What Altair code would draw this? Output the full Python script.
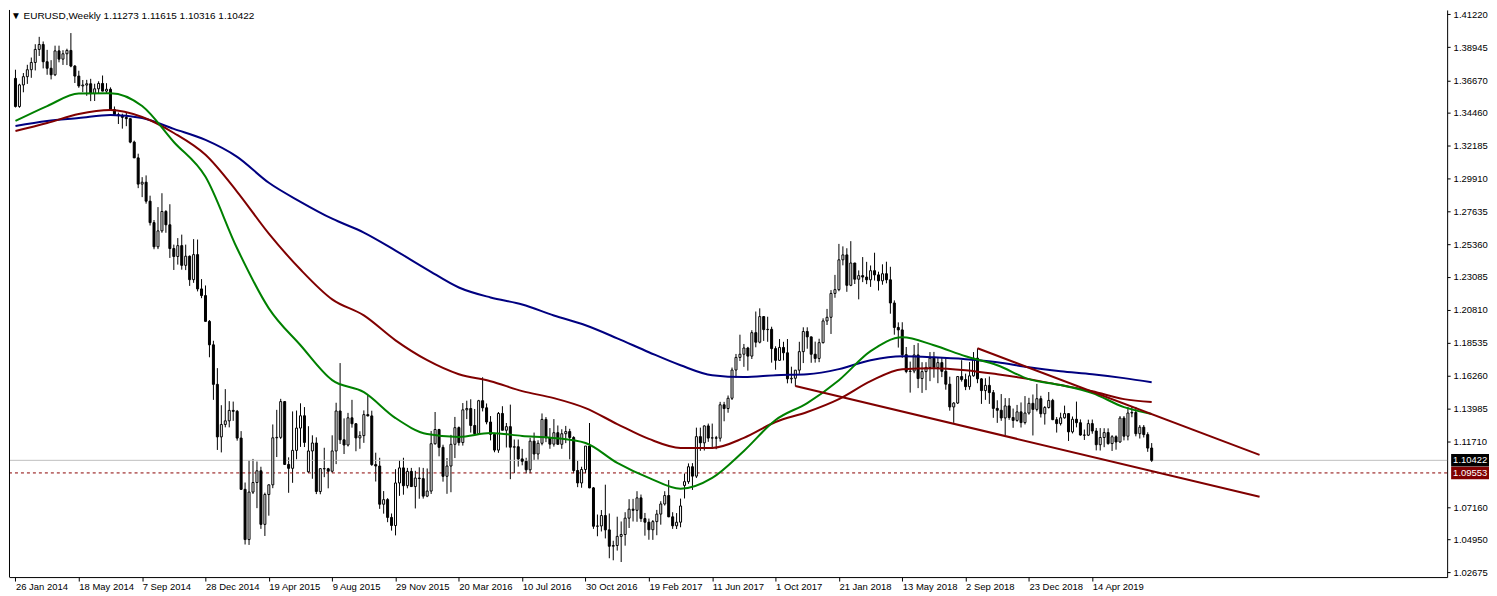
import altair as alt
import pandas as pd

FONT = "Liberation Sans"
FS = 9.5
W = 1443
H = 569

# ---- weekly candles, EURUSD, week 0 = 26 Jan 2014 ----
O = [1.3680,1.3486,1.3635,1.3692,1.3740,1.3790,1.3880,1.3914,1.3795,1.3750,
     1.3705,1.3870,1.3813,1.3850,1.3873,1.3765,1.3696,1.3628,1.3634,1.3643,
     1.3575,1.3608,1.3645,1.3592,1.3605,1.3465,1.3430,1.3423,1.3411,1.3402,
     1.3240,1.3131,1.2950,1.2963,1.2832,1.2684,1.2517,1.2627,1.2761,1.2669,
     1.2505,1.2450,1.2525,1.2389,1.2452,1.2290,1.2463,1.2226,1.2180,1.2002,
     1.1840,1.1567,1.1204,1.1290,1.1315,1.1387,1.1381,1.1196,1.0842,1.0495,
     1.0823,1.0889,1.0970,1.0600,1.0806,1.0873,1.1198,1.1201,1.1448,1.1014,
     1.0987,1.1111,1.1265,1.1350,1.0963,1.1107,1.1162,1.0827,1.0985,1.0984,
     1.0967,1.1107,1.1383,1.1184,1.1148,1.1336,1.1295,1.1197,1.1213,1.1358,
     1.1349,1.1013,1.1003,1.0739,1.0771,1.0648,1.0592,1.0886,1.0990,1.0867,
     1.0966,1.0861,1.0920,1.0916,1.0795,1.0830,1.1157,1.1255,1.1132,1.0932,
     1.1003,1.1153,1.1268,1.1165,1.1391,1.1400,1.1283,1.1226,1.1454,1.1405,
     1.1307,1.1222,1.1113,1.1366,1.1250,1.1275,1.1133,1.1136,1.1052,1.1036,
     1.0977,1.1175,1.1086,1.1160,1.1325,1.1198,1.1154,1.1233,1.1153,1.1226,
     1.1241,1.1200,1.0972,1.0886,1.0979,1.1141,1.0852,1.0587,1.0589,1.0661,
     1.0562,1.0449,1.0454,1.0517,1.0530,1.0643,1.0705,1.0697,1.0783,1.0640,
     1.0615,1.0563,1.0619,1.0671,1.0741,1.0799,1.0652,1.0590,1.0615,1.0869,
     1.0895,1.0998,1.0933,1.1206,1.1163,1.1280,1.1196,1.1198,1.1195,1.1426,
     1.1400,1.1471,1.1666,1.1753,1.1775,1.1818,1.1762,1.1924,1.1858,1.2035,
     1.1945,1.1947,1.1814,1.1733,1.1822,1.1785,1.1605,1.1609,1.1665,1.1793,
     1.1932,1.1895,1.1775,1.1746,1.1855,1.2005,1.2030,1.2195,1.2221,1.2427,
     1.2461,1.2251,1.2405,1.2293,1.2318,1.2308,1.2289,1.2352,1.2323,1.2282,
     1.2331,1.2289,1.2129,1.1960,1.1943,1.1772,1.1656,1.1659,1.1770,1.1607,
     1.1655,1.1684,1.1748,1.1684,1.1717,1.1657,1.1568,1.1411,1.1438,1.1621,
     1.1600,1.1551,1.1626,1.1748,1.1605,1.1524,1.1560,1.1510,1.1401,1.1388,
     1.1335,1.1418,1.1338,1.1318,1.1377,1.1303,1.1369,1.1436,1.1394,1.1468,
     1.1364,1.1407,1.1456,1.1323,1.1296,1.1336,1.1365,1.1239,1.1326,1.1302,
     1.1217,1.1216,1.1296,1.1245,1.1150,1.1200,1.1234,1.1158,1.1205,1.1169,
     1.1334,1.1209,1.1369,1.1373,1.1226,1.1271,1.1220,1.11273]
HI = [1.3740,1.3643,1.3717,1.3774,1.3824,1.3916,1.3967,1.3935,1.3877,1.3806,
      1.3906,1.3906,1.3875,1.3885,1.3993,1.3772,1.3733,1.3669,1.3670,1.3677,
      1.3643,1.3660,1.3700,1.3647,1.3618,1.3486,1.3444,1.3436,1.3445,1.3403,
      1.3250,1.3160,1.2998,1.3010,1.2870,1.2702,1.2791,1.2887,1.2770,1.2811,
      1.2532,1.2577,1.2601,1.2532,1.2457,1.2570,1.2567,1.2294,1.2250,1.2011,
      1.1868,1.1679,1.1423,1.1534,1.1451,1.1448,1.1390,1.1244,1.0889,1.1043,
      1.1052,1.1034,1.0998,1.0819,1.0875,1.1290,1.1391,1.1467,1.1451,1.1063,
      1.1380,1.1386,1.1436,1.1410,1.1278,1.1215,1.1201,1.0986,1.1129,1.0990,
      1.1215,1.1440,1.1714,1.1332,1.1370,1.1460,1.1299,1.1243,1.1387,1.1494,
      1.1385,1.1095,1.1060,1.0830,1.0781,1.0675,1.0981,1.1043,1.1060,1.0990,
      1.0990,1.0970,1.0994,1.0990,1.0986,1.1245,1.1376,1.1260,1.1150,1.1058,
      1.1218,1.1342,1.1276,1.1438,1.1454,1.1464,1.1397,1.1460,1.1616,1.1435,
      1.1348,1.1232,1.1376,1.1416,1.1300,1.1427,1.1186,1.1186,1.1121,1.1060,
      1.1198,1.1234,1.1181,1.1366,1.1341,1.1265,1.1327,1.1283,1.1257,1.1280,
      1.1260,1.1209,1.1039,1.0998,1.1123,1.1300,1.0858,1.0668,1.0699,1.0874,
      1.0675,1.0487,1.0653,1.0620,1.0684,1.0774,1.0776,1.0829,1.0806,1.0679,
      1.0640,1.0630,1.0700,1.0760,1.0829,1.0906,1.0684,1.0678,1.0778,1.0951,
      1.1021,1.1023,1.1268,1.1268,1.1284,1.1296,1.1296,1.1211,1.1446,1.1446,
      1.1490,1.1683,1.1777,1.1910,1.1846,1.1826,1.1941,1.2070,1.2092,1.2038,
      1.2034,1.1965,1.1830,1.1880,1.1861,1.1880,1.1689,1.1665,1.1861,1.1961,
      1.1961,1.1896,1.1862,1.1882,1.2023,1.2088,1.2218,1.2323,1.2537,1.2520,
      1.2507,1.2556,1.2406,1.2354,1.2446,1.2413,1.2388,1.2476,1.2345,1.2396,
      1.2414,1.2379,1.2147,1.1995,1.1996,1.1825,1.1724,1.1839,1.1852,1.1720,
      1.1720,1.1790,1.1791,1.1750,1.1750,1.1747,1.1620,1.1444,1.1624,1.1734,
      1.1641,1.1721,1.1790,1.1815,1.1610,1.1609,1.1621,1.1528,1.1457,1.1500,
      1.1472,1.1472,1.1400,1.1425,1.1442,1.1486,1.1474,1.1497,1.1570,1.1488,
      1.1417,1.1514,1.1467,1.1341,1.1371,1.1420,1.1369,1.1345,1.1448,1.1325,
      1.1255,1.1323,1.1324,1.1266,1.1265,1.1264,1.1263,1.1216,1.1215,1.1348,
      1.1348,1.1411,1.1412,1.1411,1.1286,1.1286,1.1236,1.11615]
LO = [1.3479,1.3477,1.3584,1.3642,1.3684,1.3735,1.3835,1.3749,1.3705,1.3673,
      1.3696,1.3791,1.3773,1.3772,1.3757,1.3648,1.3615,1.3585,1.3560,1.3523,
      1.3524,1.3573,1.3591,1.3580,1.3460,1.3422,1.3365,1.3333,1.3350,1.3232,
      1.3131,1.2922,1.2860,1.2815,1.2664,1.2500,1.2501,1.2614,1.2614,1.2440,
      1.2357,1.2394,1.2359,1.2356,1.2247,1.2268,1.2209,1.2162,1.2000,1.1754,
      1.1460,1.1114,1.1097,1.1270,1.1270,1.1315,1.1178,1.0839,1.0461,1.0458,
      1.0810,1.0712,1.0569,1.0520,1.0660,1.0850,1.1065,1.1190,1.1010,1.0818,
      1.0887,1.1050,1.1135,1.1134,1.0955,1.0915,1.0809,1.0808,1.0926,1.0849,
      1.0957,1.1016,1.1155,1.1086,1.1138,1.1268,1.1105,1.1122,1.1163,1.1346,
      1.1004,1.0896,1.0707,1.0674,1.0615,1.0557,1.0524,1.0797,1.0805,1.0849,
      1.0860,1.0710,1.0777,1.0778,1.0788,1.0810,1.1150,1.1070,1.0895,1.0811,
      1.0822,1.1058,1.1144,1.1144,1.1327,1.1234,1.1216,1.1217,1.1380,1.1291,
      1.1180,1.1098,1.1094,1.1250,1.1131,1.0912,1.0954,1.0999,1.1008,1.0952,
      1.0953,1.1045,1.1047,1.1146,1.1168,1.1122,1.1137,1.1151,1.1122,1.1161,
      1.1049,1.0953,1.0857,1.0853,1.0954,1.0850,1.0569,1.0518,1.0551,1.0503,
      1.0366,1.0352,1.0419,1.0340,1.0453,1.0575,1.0620,1.0618,1.0617,1.0522,
      1.0494,1.0493,1.0525,1.0598,1.0730,1.0650,1.0569,1.0568,1.0580,1.0779,
      1.0880,1.0838,1.0920,1.1108,1.1110,1.1170,1.1131,1.1119,1.1172,1.1312,
      1.1371,1.1459,1.1612,1.1728,1.1688,1.1662,1.1742,1.1823,1.1850,1.1867,
      1.1861,1.1717,1.1668,1.1729,1.1732,1.1574,1.1574,1.1553,1.1640,1.1714,
      1.1813,1.1716,1.1717,1.1720,1.1849,1.1977,1.1915,1.2165,1.2210,1.2389,
      1.2206,1.2245,1.2260,1.2154,1.2273,1.2259,1.2240,1.2284,1.2215,1.2255,
      1.2265,1.2055,1.1910,1.1821,1.1750,1.1644,1.1510,1.1644,1.1541,1.1508,
      1.1527,1.1589,1.1613,1.1575,1.1617,1.1530,1.1385,1.1301,1.1431,1.1586,
      1.1527,1.1530,1.1620,1.1575,1.1432,1.1460,1.1432,1.1336,1.1301,1.1315,
      1.1216,1.1322,1.1267,1.1309,1.1269,1.1290,1.1358,1.1214,1.1380,1.1338,
      1.1289,1.1400,1.1320,1.1234,1.1283,1.1330,1.1176,1.1228,1.1270,1.1213,
      1.1183,1.1210,1.1226,1.1111,1.1110,1.1133,1.1150,1.1107,1.1116,1.1164,
      1.1180,1.1180,1.1340,1.1208,1.1193,1.1200,1.1101,1.10316]
CL = [1.3486,1.3635,1.3692,1.3740,1.3790,1.3880,1.3914,1.3795,1.3750,1.3705,
      1.3870,1.3813,1.3850,1.3873,1.3765,1.3696,1.3628,1.3634,1.3643,1.3575,
      1.3608,1.3645,1.3592,1.3605,1.3465,1.3430,1.3423,1.3411,1.3402,1.3240,
      1.3131,1.2950,1.2963,1.2832,1.2684,1.2517,1.2627,1.2761,1.2669,1.2505,
      1.2450,1.2525,1.2389,1.2452,1.2290,1.2463,1.2226,1.2180,1.2002,1.1840,
      1.1567,1.1204,1.1290,1.1315,1.1387,1.1381,1.1196,1.0842,1.0495,1.0823,
      1.0889,1.0970,1.0600,1.0806,1.0873,1.1198,1.1201,1.1448,1.1014,1.0987,
      1.1111,1.1265,1.1350,1.1166,1.1107,1.1162,1.0827,1.0985,1.0984,1.0967,
      1.1107,1.1383,1.1184,1.1148,1.1336,1.1295,1.1197,1.1213,1.1358,1.1349,
      1.1013,1.1003,1.0739,1.0771,1.0648,1.0592,1.0886,1.0990,1.0867,1.0966,
      1.0861,1.0920,1.0916,1.0795,1.0830,1.1157,1.1255,1.1132,1.0932,1.1003,
      1.1153,1.1268,1.1165,1.1391,1.1400,1.1283,1.1226,1.1454,1.1405,1.1307,
      1.1222,1.1113,1.1366,1.1250,1.1275,1.1133,1.1136,1.1052,1.1036,1.0977,
      1.1175,1.1086,1.1160,1.1325,1.1198,1.1154,1.1233,1.1153,1.1226,1.1241,
      1.1200,1.0972,1.0886,1.0979,1.1141,1.0852,1.0587,1.0589,1.0661,1.0562,
      1.0449,1.0454,1.0517,1.0530,1.0643,1.0705,1.0697,1.0783,1.0640,1.0615,
      1.0563,1.0619,1.0671,1.0741,1.0799,1.0652,1.0590,1.0615,1.0727,1.0895,
      1.0998,1.0933,1.1206,1.1163,1.1280,1.1196,1.1198,1.1195,1.1426,1.1400,
      1.1471,1.1666,1.1753,1.1775,1.1818,1.1762,1.1924,1.1858,1.2035,1.1945,
      1.1947,1.1814,1.1733,1.1822,1.1785,1.1605,1.1609,1.1665,1.1793,1.1932,
      1.1895,1.1775,1.1746,1.1855,1.2005,1.2030,1.2195,1.2221,1.2427,1.2461,
      1.2251,1.2405,1.2293,1.2318,1.2308,1.2289,1.2352,1.2323,1.2282,1.2331,
      1.2289,1.2129,1.1960,1.1943,1.1772,1.1656,1.1659,1.1770,1.1607,1.1655,
      1.1684,1.1748,1.1684,1.1717,1.1657,1.1568,1.1411,1.1438,1.1621,1.1600,
      1.1551,1.1626,1.1748,1.1605,1.1524,1.1560,1.1510,1.1401,1.1388,1.1335,
      1.1418,1.1338,1.1318,1.1377,1.1303,1.1369,1.1436,1.1394,1.1468,1.1364,
      1.1407,1.1456,1.1323,1.1296,1.1336,1.1365,1.1239,1.1326,1.1302,1.1217,
      1.1216,1.1296,1.1245,1.1150,1.1200,1.1234,1.1158,1.1205,1.1169,1.1334,
      1.1209,1.1369,1.1373,1.1226,1.1271,1.1220,1.1127,1.10422]

# ---- moving averages (every 8 weeks, last point = week 287) ----
MA_WEEKS = list(range(0, 281, 8)) + [287]
MA_GREEN = [1.3386,1.3489,1.3575,1.3578,1.3489,1.3241,1.3000,1.2505,1.2092,1.1837,
            1.1596,1.1513,1.1334,1.1224,1.1204,1.1231,1.1211,1.1197,1.1162,1.1025,
            1.0921,1.0846,1.0921,1.1107,1.1321,1.1438,1.1596,1.1796,1.1892,1.1837,
            1.1761,1.1699,1.1603,1.1562,1.1507,1.1410,1.1362]
MA_RED = [1.3317,1.3372,1.3434,1.3461,1.3413,1.3303,1.3152,1.2897,1.2608,1.2360,
          1.2154,1.2043,1.1871,1.1734,1.1637,1.1589,1.1520,1.1472,1.1403,1.1293,
          1.1190,1.1128,1.1128,1.1197,1.1307,1.1376,1.1465,1.1589,1.1672,1.1679,
          1.1665,1.1637,1.1603,1.1562,1.1520,1.1465,1.1445]
MA_BLUE = [1.3351,1.3386,1.3406,1.3427,1.3406,1.3331,1.3255,1.3138,1.2959,1.2828,
           1.2711,1.2615,1.2491,1.2360,1.2236,1.2167,1.2119,1.2043,1.1975,1.1885,
           1.1789,1.1699,1.1630,1.1617,1.1630,1.1637,1.1672,1.1734,1.1761,1.1754,
           1.1741,1.1720,1.1685,1.1658,1.1637,1.1610,1.1582]

# ---- trend lines (week, price) ----
TL_UPPER_W = [243, 314.25]
TL_UPPER_P = [1.1816, 1.1080]
TL_LOWER_W = [197, 314.25]
TL_LOWER_P = [1.1555, 1.0791]

BID = 1.10422
LEVEL = 1.09553

X_TICKS = list(range(0, 273, 16))
X_LABELS = ["26 Jan 2014", "18 May 2014", "7 Sep 2014", "28 Dec 2014", "19 Apr 2015",
            "9 Aug 2015", "29 Nov 2015", "20 Mar 2016", "10 Jul 2016", "30 Oct 2016",
            "19 Feb 2017", "11 Jun 2017", "1 Oct 2017", "21 Jan 2018", "13 May 2018",
            "2 Sep 2018", "23 Dec 2018", "14 Apr 2019"]
Y_TICKS = [1.41220, 1.38945, 1.36670, 1.34460, 1.32185, 1.29910, 1.27635, 1.25360,
           1.23085, 1.20810, 1.18535, 1.16260, 1.13985, 1.11710, 1.07160, 1.04950, 1.02675]
TITLE = "\u25BC EURUSD,Weekly  1.11273 1.11615 1.10316 1.10422"

# ---------------------------------------------------------------
df = pd.DataFrame({"i": list(range(len(O))), "o": O, "h": HI, "l": LO, "c": CL})

YMIN, YMAX = 1.02361, 1.41525
xscale = alt.Scale(domain=[-0.375, 360.375], nice=False, zero=False)
yscale = alt.Scale(domain=[YMIN, YMAX], nice=False, zero=False)

label_expr = "[" + ",".join("'%s'" % s for s in X_LABELS) + "][round(datum.value/16)]"
xaxis = alt.Axis(values=X_TICKS, labelExpr=label_expr, labelAlign="left", labelPadding=0,
                 tickSize=4, grid=False, title=None, domainColor="black", tickColor="black",
                 labelColor="black", labelFont=FONT, labelFontSize=FS, labelOverlap=False,
                 labelBaseline="top", labelFlush=False)
yaxis = alt.Axis(orient="right", values=Y_TICKS, format=".5f", tickSize=3, labelPadding=3,
                 grid=False, title=None, domainColor="black", tickColor="black",
                 labelColor="black", labelFont=FONT, labelFontSize=FS, labelOverlap=False,
                 labelBaseline="middle", labelFlush=False)


def X(field="i"):
    return alt.X(field + ":Q", scale=xscale, axis=xaxis)


def Y(field):
    return alt.Y(field + ":Q", scale=yscale, axis=yaxis)


bid_line = alt.Chart(pd.DataFrame({"i": [0], "p": [BID]})).mark_rule(
    color="#C0C0C0", strokeWidth=1).encode(y=Y("p"))
level_line = alt.Chart(pd.DataFrame({"i": [0], "p": [LEVEL]})).mark_rule(
    color="#8B0000", strokeWidth=1, strokeDash=[3, 3]).encode(y=Y("p"))

wicks = alt.Chart(df).mark_rule(color="black", strokeWidth=1).encode(
    x=X("i"), y=Y("l"), y2="h:Q")
bodies = alt.Chart(df).mark_bar(size=2, stroke="black", strokeWidth=1).encode(
    x=X(), y=Y("o"), y2="c:Q",
    fill=alt.condition("datum.c >= datum.o", alt.value("white"), alt.value("black")))

ma_layers = []
for vals, col in [(MA_BLUE, "#000080"), (MA_RED, "#800000"), (MA_GREEN, "#008000")]:
    d = pd.DataFrame({"i": MA_WEEKS, "p": vals})
    ma_layers.append(alt.Chart(d).mark_line(color=col, strokeWidth=2,
                                            interpolate="monotone").encode(x=X(), y=Y("p")))

tl = pd.DataFrame({"i": TL_UPPER_W + TL_LOWER_W, "p": TL_UPPER_P + TL_LOWER_P,
                   "g": ["u", "u", "l", "l"]})
trend = alt.Chart(tl).mark_line(color="#800000", strokeWidth=2).encode(
    x=X(), y=Y("p"), detail="g:N")

half = 6.3 * (YMAX - YMIN) / H
boxes = pd.DataFrame({"p": [BID, LEVEL], "lo": [BID - half, LEVEL - half],
                      "hi": [BID + half, LEVEL + half], "col": ["#000000", "#800000"],
                      "t": ["%.5f" % BID, "%.5f" % LEVEL]})
box_rect = alt.Chart(boxes).mark_rect().encode(
    x=alt.value(W + 4), x2=alt.value(W + 42), y=Y("lo"), y2="hi:Q",
    fill=alt.Fill("col:N", scale=None))
box_text = alt.Chart(boxes).mark_text(align="left", baseline="middle", color="white",
                                      font=FONT, fontSize=FS).encode(
    x=alt.value(W + 6), y=Y("p"), text="t:N")

left_border = alt.Chart(pd.DataFrame({"a": [0]})).mark_rule(color="black").encode(
    x=alt.value(0.5), y=alt.value(0), y2=alt.value(H))

title = alt.Chart(pd.DataFrame({"t": [TITLE]})).mark_text(
    align="left", baseline="middle", font=FONT, fontSize=10, color="black").encode(
    x=alt.value(2), y=alt.value(6), text="t:N")

chart = alt.layer(
    wicks, bid_line, level_line, bodies, *ma_layers, trend, box_rect, box_text,
    left_border, title
).properties(width=W, height=H, padding=0).configure_view(stroke=None)

chart.save("out.html", embed_options={"renderer": "svg", "actions": False})
